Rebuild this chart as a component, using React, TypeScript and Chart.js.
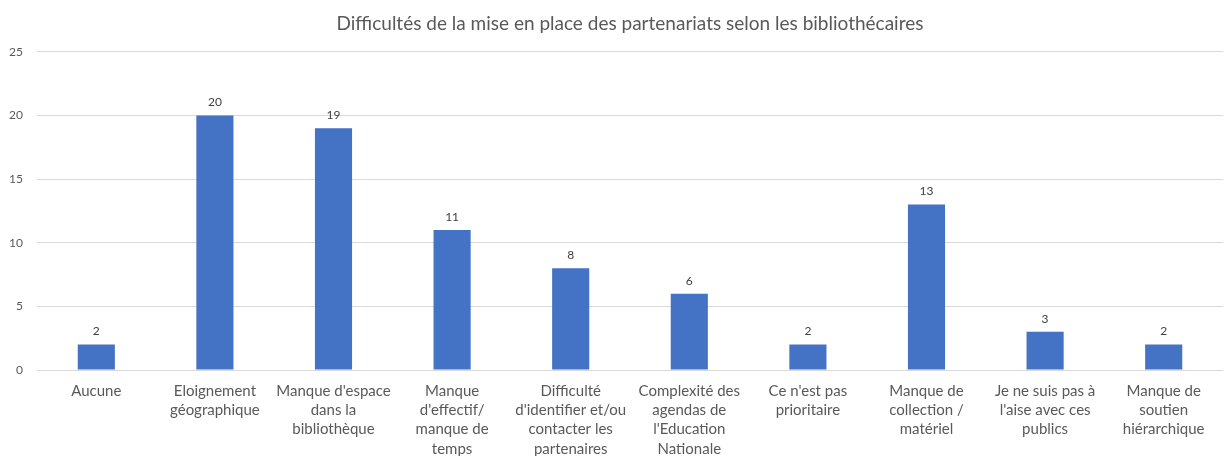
import React, { useEffect, useRef } from "react";
import { Chart, registerables } from "chart.js";

Chart.register(...registerables);

const TITLE = "Difficultés de la mise en place des partenariats selon les bibliothécaires";

const categories: (string | string[])[] = [
  "Aucune",
  ["Eloignement", "géographique"],
  ["Manque d'espace", "dans la", "bibliothèque"],
  ["Manque", "d'effectif/", "manque de", "temps"],
  ["Difficulté", "d'identifier et/ou", "contacter les", "partenaires"],
  ["Complexité des", "agendas de", "l'Education", "Nationale"],
  ["Ce n'est pas", "prioritaire"],
  ["Manque de", "collection /", "matériel"],
  ["Je ne suis pas à", "l'aise avec ces", "publics"],
  ["Manque de", "soutien", "hiérarchique"],
];

const values: number[] = [2, 20, 19, 11, 8, 6, 2, 13, 3, 2];

const yTicks: number[] = [0, 5, 10, 15, 20, 25];

const FONT = "Lato, 'Liberation Sans', sans-serif";

const valueLabels = {
  id: "valueLabels",
  afterDatasetsDraw(chart: any) {
    const ctx = chart.ctx;
    const meta = chart.getDatasetMeta(0);
    ctx.save();
    ctx.font = `12px ${FONT}`;
    ctx.fillStyle = "#404040";
    ctx.textAlign = "center";
    ctx.textBaseline = "middle";
    meta.data.forEach((bar: any, i: number) => {
      ctx.fillText(String(values[i]), bar.x, bar.y - 13);
    });
    ctx.restore();
  },
};

export default function App() {
  const ref = useRef<HTMLCanvasElement | null>(null);

  useEffect(() => {
    document.body.style.margin = "0";
    const canvas = ref.current!;
    const chart = new Chart(canvas, {
      type: "bar",
      data: {
        labels: categories,
        datasets: [
          {
            data: values,
            backgroundColor: "#4472C4",
            barPercentage: 0.313,
            categoryPercentage: 1,
          },
        ],
      },
      options: {
        animation: false,
        responsive: false,
        maintainAspectRatio: false,
        layout: { padding: { left: 0, right: 6, top: 0, bottom: 0 } },
        plugins: {
          legend: { display: false },
          tooltip: { enabled: false },
          title: {
            display: true,
            fullSize: false,
            text: TITLE,
            color: "#595959",
            font: { family: FONT, size: 19, weight: "normal", lineHeight: 1.2 },
            padding: { top: 12, bottom: 17 },
          },
        },
        scales: {
          x: {
            grid: { display: false, drawTicks: false },
            border: { display: false },
            ticks: {
              autoSkip: false,
              maxRotation: 0,
              minRotation: 0,
              color: "#595959",
              font: { family: FONT, size: 15, lineHeight: 1.27 },
              padding: 12,
            },
            afterFit: (scale: any) => {
              scale.height = 86;
            },
          },
          y: {
            min: 0,
            max: 25,
            afterBuildTicks: (scale: any) => {
              scale.ticks = yTicks.map((v) => ({ value: v }));
            },
            grid: { color: "#D9D9D9", drawTicks: false },
            border: { display: false },
            ticks: {
              color: "#595959",
              font: { family: FONT, size: 12 },
              padding: 14,
            },
            afterFit: (scale: any) => {
              scale.width = 37;
            },
          },
        },
      },
      plugins: [valueLabels],
    });
    return () => chart.destroy();
  }, []);

  return (
    <div style={{ width: 1229, height: 456, background: "#fff" }}>
      <canvas ref={ref} width={1229} height={456} />
    </div>
  );
}
